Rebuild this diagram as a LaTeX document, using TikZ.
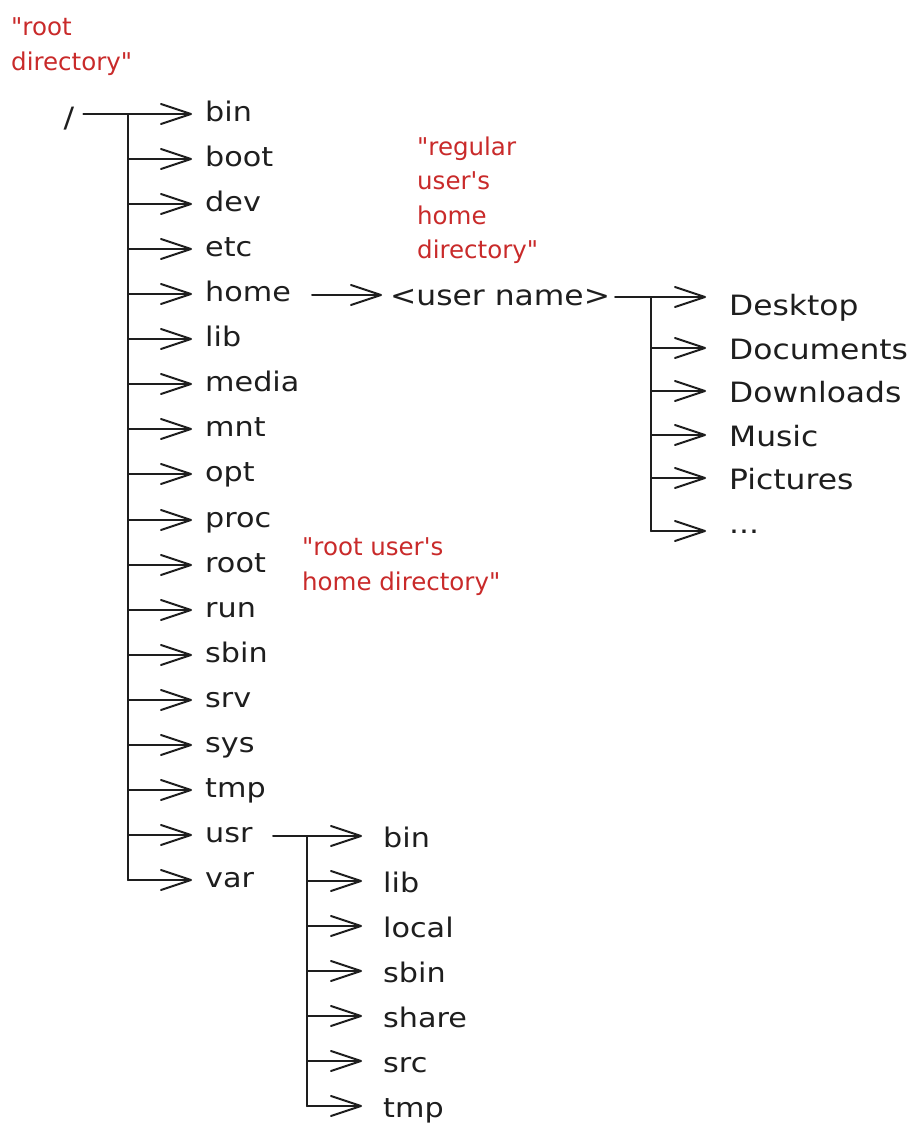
\documentclass[tikz,border=0pt]{standalone}
\usepackage{fontspec}
\setmainfont[FakeStretch=1.12]{DejaVu Sans}
\newfontfamily\notefont{DejaVu Sans}
\usetikzlibrary{arrows.meta}
\definecolor{ink}{RGB}{30,30,30}
\definecolor{note}{RGB}{201,42,42}
\begin{document}
\begin{tikzpicture}[x=1pt,y=-1pt,
  item/.style={anchor=base west, inner xsep=13pt, inner ysep=0pt, text=ink, font=\fontsize{27}{30}\selectfont},
  subitem/.style={item, inner xsep=23pt, font=\fontsize{28}{32}\selectfont},
  usritem/.style={item, inner xsep=21pt},
  rednote/.style={anchor=base west, inner sep=0pt, align=left, text=note, font=\notefont\fontsize{24.5}{34.5}\selectfont},
  conn/.style={draw=ink, line width=2pt, line cap=round},
  arr/.style={conn, -{Straight Barb[length=30pt,width=20pt,line cap=round,line join=round]}},
]
\fill[white] (0,0) rectangle (924,1141);
\useasboundingbox (0,0) rectangle (924,1141);

% notes (anchored at the baseline of their last line)
\node[rednote] (n1) at (11,70) {\textquotedbl root\\directory\textquotedbl};
\node[rednote] (n2) at (417,258.5) {\textquotedbl regular\\user\textquotesingle s\\home\\directory\textquotedbl};
\node[rednote] (n3) at (302,590) {\textquotedbl root user\textquotesingle s\\home directory\textquotedbl};

% root
\node[anchor=base, inner xsep=9pt, inner ysep=0pt, text=ink, font=\fontsize{28}{30}\selectfont] (root) at (69,127) {/};

% main list
\foreach \nm [count=\i from 0] in {bin,boot,dev,etc,home,lib,media,mnt,opt,proc,root,run,sbin,srv,sys,tmp,usr,var}{
  \pgfmathsetmacro{\by}{round(121+45.06*\i)}
  \node[item] (d\i) at (192,\by) {\nm};
  \coordinate (m\i) at (128,\by-7);
}
\draw[arr] (root.east |- m0) -- (m0 -| d0.west);
\draw[conn] (m0) -- (m17);
\foreach \i in {1,...,17}{
  \draw[arr] (m\i) -- (m\i -| d\i.west);
}

% home -> user name
\coordinate (hs) at (312,295);
\node[anchor=base west, inner xsep=8pt, inner ysep=0pt, text=ink, font=\fontsize{28}{32}\selectfont] (user) at (382,305) {<user name>};
\draw[arr] (hs) -- (hs -| user.west);

% user subtree
\foreach \nm [count=\i from 0] in {Desktop,Documents,Downloads,Music,Pictures}{
  \pgfmathsetmacro{\by}{round(315+43.6*\i)}
  \node[subitem] (u\i) at (706,\by) {\nm};
  \coordinate (v\i) at (651,\by-11);
}
\node[subitem] (u5) at (706,533) {...};
\coordinate (v5) at (651,531);
\coordinate (us) at (615,297);
\coordinate (v0) at (651,297);
\draw[arr] (us) -- (us -| u0.west);
\draw[conn] (v0) -- (v5);
\foreach \i in {1,...,5}{
  \draw[arr] (v\i) -- (v\i -| u\i.west);
}

% usr subtree
\foreach \nm [count=\i from 0] in {bin,lib,local,sbin,share,src,tmp}{
  \pgfmathsetmacro{\by}{847+45*\i}
  \node[usritem] (s\i) at (362,\by) {\nm};
  \coordinate (w\i) at (307,\by-11);
}
\coordinate (ss) at (273,836);
\draw[arr] (ss) -- (ss -| s0.west);
\draw[conn] (w0) -- (w6);
\foreach \i in {1,...,6}{
  \draw[arr] (w\i) -- (w\i -| s\i.west);
}
\end{tikzpicture}
\end{document}
